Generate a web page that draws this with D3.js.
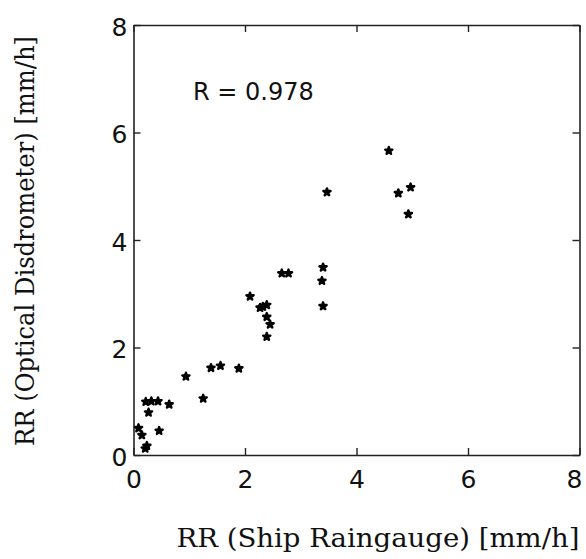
<!DOCTYPE html>
<html><head><meta charset="utf-8">
<script src="https://cdn.jsdelivr.net/npm/d3@7"></script>
<style>body{margin:0;background:#fff}svg{display:block}</style>
</head><body>
<script>
// Data
const gaugeRR = [3.47,4.75,4.97,4.93,4.58,3.40,3.38,3.40,2.66,2.78,2.09,2.27,2.32,2.39,2.39,2.45,2.39,0.94,1.39,1.56,1.89,1.25,0.22,0.32,0.44,0.64,0.27,0.46,0.09,0.15,0.24,0.21];
const disdroRR = [4.89,4.87,4.98,4.48,5.66,3.49,3.24,2.77,3.38,3.38,2.95,2.74,2.76,2.79,2.57,2.43,2.20,1.46,1.62,1.66,1.61,1.05,0.99,1.00,1.00,0.94,0.79,0.45,0.50,0.37,0.17,0.12];
const tickValues = [0,2,4,6,8];
const xTitle = "RR (Ship Raingauge) [mm/h]";
const yTitle = "RR (Optical Disdrometer) [mm/h]";
const corrLabel = "R = 0.978";

const W = 586, H = 559;
const svg = d3.select("body").append("svg").attr("width", W).attr("height", H);
const x = d3.scaleLinear().domain([0,8]).range([133.5,579.5]);
const y = d3.scaleLinear().domain([0,8]).range([455,25]);
const tl = 7;

const g = svg.append("g");
const xb = g.append("g").attr("transform",`translate(0,${y(0)})`)
  .call(d3.axisBottom(x).tickValues(tickValues).tickSizeInner(-tl).tickSizeOuter(0).tickPadding(15));
g.append("g").attr("transform",`translate(0,${y(8)})`)
  .call(d3.axisTop(x).tickValues(tickValues).tickSizeInner(-tl).tickSizeOuter(0).tickFormat(""));
const yl = g.append("g").attr("transform",`translate(${x(0)},0)`)
  .call(d3.axisLeft(y).tickValues(tickValues).tickSizeInner(-tl).tickSizeOuter(0).tickPadding(6));
g.append("g").attr("transform",`translate(${x(8)},0)`)
  .call(d3.axisRight(y).tickValues(tickValues).tickSizeInner(-tl).tickSizeOuter(0).tickFormat(""));
g.selectAll(".domain").attr("stroke","#222").attr("stroke-width",1.6);
g.selectAll(".tick line").attr("stroke","#222").attr("stroke-width",1.4);
g.selectAll(".tick text").attr("font-family","DejaVu Sans").attr("font-size",25).attr("fill","#111");
xb.selectAll(".tick text").attr("dy","0.71em");
xb.selectAll(".tick").filter(d=>d===8).select("text").attr("text-anchor","end").attr("dx","0.1em");
yl.selectAll(".tick text").attr("dy","0.4em");

// points
svg.append("g").selectAll("path").data(gaugeRR.map((v,i)=>[v,disdroRR[i]])).join("path")
  .attr("transform",d=>`translate(${x(d[0])},${y(d[1])})`)
  .attr("d", d3.symbol().type(d3.symbolStar).size(16))
  .attr("fill","#000").attr("stroke","#000").attr("stroke-width",2.4).attr("stroke-linejoin","round");

// texts
svg.append("text").attr("x",193).attr("y",100).attr("font-family","DejaVu Sans").attr("font-size",24)
  .attr("fill","#111").text(corrLabel);
svg.append("text").attr("x",378).attr("y",547).attr("text-anchor","middle")
  .attr("font-family","DejaVu Serif").attr("font-size",26).attr("fill","#111")
  .attr("textLength",403).attr("lengthAdjust","spacingAndGlyphs").text(xTitle);
svg.append("text").attr("transform","translate(34,241) rotate(-90)").attr("text-anchor","middle")
  .attr("font-family","DejaVu Serif").attr("font-size",26).attr("fill","#111")
  .attr("textLength",410).attr("lengthAdjust","spacingAndGlyphs").text(yTitle);
</script>
</body></html>
